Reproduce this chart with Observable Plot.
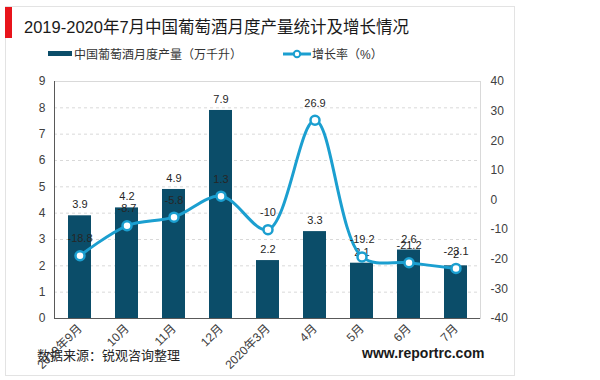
<!DOCTYPE html>
<html><head><meta charset="utf-8">
<script src="https://cdn.jsdelivr.net/npm/d3@7"></script>
<script src="https://cdn.jsdelivr.net/npm/@observablehq/plot@0.6"></script>
<style>
body{margin:0;background:#fff;}
#wrap{position:relative;width:600px;height:380px;font-family:"Liberation Sans","Noto Sans CJK SC",sans-serif;overflow:hidden;background:#fff;}
#chart{position:absolute;left:0;top:0;}
.border{position:absolute;left:5px;top:6px;width:508px;height:368px;border:1px solid #e3e3e3;}
.redbar{position:absolute;left:5px;top:7px;width:7px;height:31px;background:#e8141b;}
.title{position:absolute;left:24px;top:14px;font-size:16.5px;color:#1a1a1a;white-space:nowrap;}
.legend{position:absolute;top:45px;font-size:12px;color:#333;white-space:nowrap;display:flex;align-items:center;}
.sw1{display:inline-block;width:24px;height:5px;background:#0b4d69;margin-right:2px;}
.source{position:absolute;left:37px;top:345px;font-size:13px;color:#262626;white-space:nowrap;}
.site{position:absolute;left:362px;top:345px;font-size:14px;font-weight:bold;color:#1a1a1a;white-space:nowrap;}
</style></head><body>
<div id="wrap">
  <div class="border"></div>
  <div id="chart"></div>
  <div class="redbar"></div>
  <div class="title">2019-2020年7月中国葡萄酒月度产量统计及增长情况</div>
  <div class="legend" style="left:48px;"><span class="sw1"></span>中国葡萄酒月度产量（万千升）</div>
  <div class="legend" style="left:283px;"><svg width="28" height="10" style="margin-right:1px"><line x1="0" y1="5" x2="28" y2="5" stroke="#1b9fd0" stroke-width="3"/><circle cx="14" cy="5" r="3.2" fill="#fff" stroke="#1b9fd0" stroke-width="2"/></svg>增长率（%）</div>
  <div class="source">数据来源：锐观咨询整理</div>
  <div class="site">www.reportrc.com</div>
</div>
<script>
const months = ["2019年9月","10月","11月","12月","2020年3月","4月","5月","6月","7月"];
const output = [3.9, 4.2, 4.9, 7.9, 2.2, 3.3, 2.1, 2.6, 2];
const growth = [-18.8, -8.7, -5.8, 1.3, -10, 26.9, -19.2, -21.2, -23.1];
const leftTicks = [0, 1, 2, 3, 4, 5, 6, 7, 8, 9];
const rightTicks = [40, 30, 20, 10, 0, -10, -20, -30, -40];

const toLeft = g => (g + 40) * 9 / 80;
const fromLeft = v => Math.round(v * 80 / 9 - 40);
const data = months.map((m, i) => ({month: m, output: output[i], growth: growth[i], gy: toLeft(growth[i])}));

const barColor = "#0b4d69";
const lineColor = "#1b9fd0";

const chart = Plot.plot({
  width: 600, height: 380,
  marginLeft: 54, marginRight: 120, marginTop: 81, marginBottom: 62,
  style: {fontFamily: '"Liberation Sans","Noto Sans CJK SC",sans-serif', fontSize: "12px", color: "#404040", background: "transparent"},
  x: {domain: months, padding: 0, label: null},
  y: {domain: [0, 9], label: null},
  marks: [
    Plot.ruleY(leftTicks.slice(1, -1), {stroke: "#d9d9d9", strokeDasharray: "3,3"}),
    Plot.frame({stroke: "#d9d9d9"}),
    Plot.barY(data, {x: "month", y: "output", fill: barColor, insetLeft: 12, insetRight: 12}),
    Plot.frame({anchor: "left", stroke: "#595959"}),
    Plot.ruleY([0], {stroke: "#595959"}),
    Plot.axisY(leftTicks, {anchor: "left", tickSize: 0, tickPadding: 9, fontSize: 12, label: null}),
    Plot.axisY(rightTicks.map(toLeft), {anchor: "right", tickSize: 0, tickPadding: 10, tickFormat: fromLeft, fontSize: 12, label: null}),
    Plot.axisX({tickRotate: -45, tickSize: 0, tickPadding: 8, fontSize: 12, label: null}),
    Plot.text(data, {x: "month", y: "output", text: d => String(d.output), dy: -11, fill: "#262626", fontSize: 11}),
    Plot.line(data, {x: "month", y: "gy", stroke: lineColor, strokeWidth: 3, curve: "catmull-rom"}),
    Plot.dot(data, {x: "month", y: "gy", r: 4.5, fill: "white", stroke: lineColor, strokeWidth: 2.5}),
    Plot.text(data, {x: "month", y: "gy", text: d => String(d.growth), dy: -17, fill: "#262626", fontSize: 11})
  ]
});
document.getElementById("chart").appendChild(chart);
</script>
</body></html>
